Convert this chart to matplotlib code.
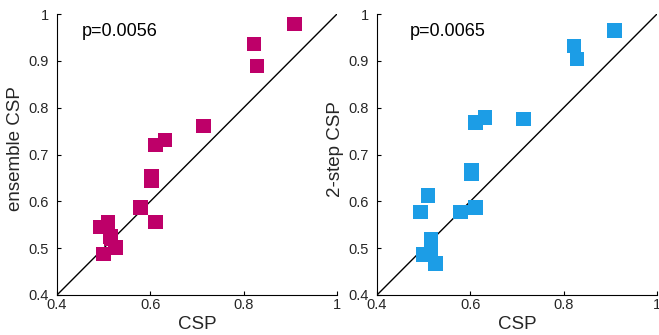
import matplotlib
matplotlib.use("Agg")
import matplotlib.pyplot as plt

csp = [0.909, 0.822, 0.829, 0.714, 0.631, 0.611, 0.602, 0.602, 0.579, 0.611,
       0.509, 0.493, 0.515, 0.525, 0.500, 0.516]
ensemble = [0.979, 0.936, 0.889, 0.761, 0.731, 0.720, 0.653, 0.645, 0.587, 0.556,
            0.555, 0.545, 0.525, 0.501, 0.488, 0.520]
twostep_x = [0.909, 0.822, 0.829, 0.714, 0.631, 0.611, 0.602, 0.602, 0.579, 0.611,
             0.509, 0.493, 0.516, 0.525, 0.500, 0.516]
twostep = [0.965, 0.932, 0.904, 0.776, 0.779, 0.768, 0.667, 0.660, 0.577, 0.587,
           0.612, 0.577, 0.519, 0.467, 0.486, 0.489]

ticks = [0.4, 0.6, 0.8, 1.0]
yticks = [0.4, 0.5, 0.6, 0.7, 0.8, 0.9, 1.0]
tick_labels = ["0.4", "0.6", "0.8", "1"]
ytick_labels = ["0.4", "0.5", "0.6", "0.7", "0.8", "0.9", "1"]

plt.rcParams['font.family'] = ['Liberation Sans', 'DejaVu Sans']

fig = plt.figure(figsize=(6.59, 3.35), dpi=100)
W, H = 659, 335
ax1 = fig.add_axes([57 / W, 40 / H, 280 / W, 281 / H])
ax2 = fig.add_axes([377 / W, 40 / H, 280 / W, 281 / H])

panels = [
    (ax1, csp, ensemble, "#BE0069", "ensemble CSP", "p=0.0056", 0.453),
    (ax2, twostep_x, twostep, "#1C9DE6", "2-step CSP", "p=0.0065", 0.471),
]
for ax, xs, ys, col, ylab, ptxt, px in panels:
    ax.plot([0.4, 1], [0.4, 1], color="black", lw=1.0, zorder=1)
    ax.scatter(xs, ys, marker="s", s=110, color=col, edgecolors="none", zorder=2)
    ax.set_xlim(0.4, 1)
    ax.set_ylim(0.4, 1)
    ax.set_xticks(ticks)
    ax.set_xticklabels(tick_labels)
    ax.set_yticks(yticks)
    ax.set_yticklabels(ytick_labels)
    for s in ["top", "right"]:
        ax.spines[s].set_visible(False)
    for s in ["left", "bottom"]:
        ax.spines[s].set_linewidth(0.8)
    ax.tick_params(direction="in", length=3, width=0.8, labelsize=10.5,
                   labelcolor="#262626")
    ax.tick_params(axis="y", pad=6)
    ax.tick_params(axis="x", pad=2)
    ax.set_xlabel("CSP", fontsize=13.5, color="#262626", labelpad=3)
    ax.set_ylabel(ylab, fontsize=13.5, color="#262626")
    ax.yaxis.set_label_coords(-0.118, 0.52)
    ax.text(px, 0.963, ptxt, fontsize=13, color="black", va="center", ha="left")
    for lab in ax.get_xticklabels() + ax.get_yticklabels():
        lab.set_clip_on(False)

fig.savefig("out.png", dpi=100)
